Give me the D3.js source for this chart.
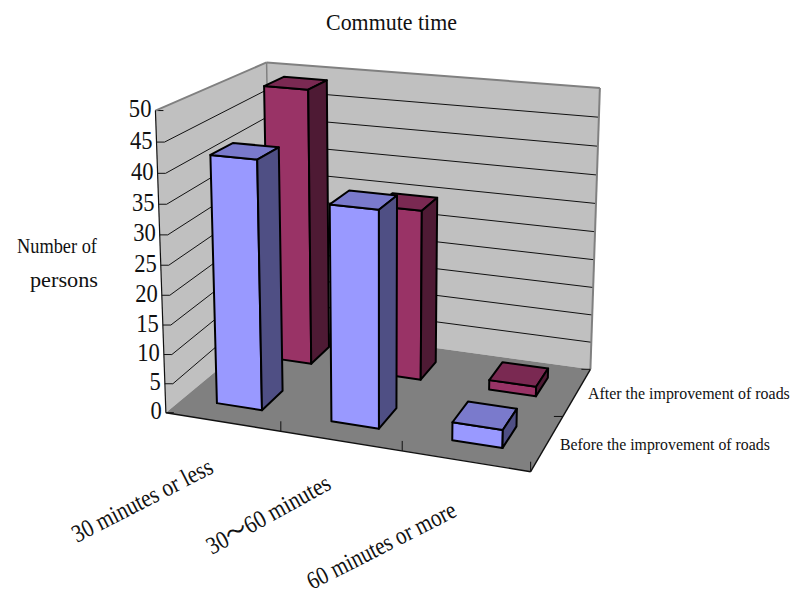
<!DOCTYPE html>
<html><head><meta charset="utf-8">
<style>html,body{margin:0;padding:0;background:#fff}svg{display:block}text{font-family:"Liberation Serif","Noto Sans CJK JP",serif;fill:#111}</style>
<script src="https://cdn.jsdelivr.net/npm/d3@7"></script></head><body>
<script>
const categories = ["30 minutes or less", "30～60 minutes", "60 minutes or more"];
const seriesNames = ["Before the improvement of roads", "After the improvement of roads"];
const beforeValues = [42, 36, 3];
const afterValues = [49, 30, 1.7];
const valueTicks = [0,5,10,15,20,25,30,35,40,45,50];
const chartTitle = "Commute time";
const axisTitle = ["Number of", "persons"];
// picture-plane anchors of the 3D box: [x, depth, height] -> [px, py]
const anchors = [
  [[0,0,0],[165,412]],[[1,0,0],[531,472]],[[1,1,0],[590,369]],[[0,1,0],[272,326]],
  [[0,0,1],[156,111]],[[0,1,1],[266,62]],[[1,1,1],[600,88]]
];
function solve(A,b){const n=b.length;const M=A.map((r,i)=>[...r,b[i]]);
  for(let c=0;c<n;c++){let p=c;for(let r=c+1;r<n;r++)if(Math.abs(M[r][c])>Math.abs(M[p][c]))p=r;
    [M[c],M[p]]=[M[p],M[c]];
    for(let r=0;r<n;r++){if(r===c)continue;const f=M[r][c]/M[c][c];for(let k=c;k<=n;k++)M[r][k]-=f*M[c][k];}}
  return M.map((r,i)=>r[n]/r[i]);}
const rows=[],rhs=[];
anchors.forEach(([[x,y,z],[u,v]])=>{
  rows.push([x,y,z,1,0,0,0,0,-u*x,-u*y,-u*z]);rhs.push(u);
  rows.push([0,0,0,0,x,y,z,1,-v*x,-v*y,-v*z]);rhs.push(v);});
const ATA=d3.range(11).map(i=>d3.range(11).map(j=>d3.sum(rows,r=>r[i]*r[j])));
const ATb=d3.range(11).map(i=>d3.sum(rows,(r,k)=>r[i]*rhs[k]));
const m=solve(ATA,ATb);
function project(x,y,z){const w=m[8]*x+m[9]*y+m[10]*z+1;return [(m[0]*x+m[1]*y+m[2]*z+m[3])/w,(m[4]*x+m[5]*y+m[6]*z+m[7])/w];}

const xScale=d3.scaleBand().domain(categories).range([0,1]).paddingInner(0.6).paddingOuter(0.3);
const depthScale=d3.scaleBand().domain(seriesNames).range([0,1]).paddingInner(0.6).paddingOuter(0.3);
const zScale=d3.scaleLinear().domain([0,50]).range([0,1]);
const line=d3.line();
const svg=d3.select("body").append("svg").attr("width",795).attr("height",596);
const poly=(pts,fill,stroke,sw)=>svg.append("path").attr("d",line(pts)+"Z").attr("fill",fill).attr("stroke",stroke||"none").attr("stroke-width",sw||0).attr("stroke-linejoin","round");
const seg=(a,b,stroke,sw)=>svg.append("line").attr("x1",a[0]).attr("y1",a[1]).attr("x2",b[0]).attr("y2",b[1]).attr("stroke",stroke).attr("stroke-width",sw);

// walls and floor
poly([project(0,0,0),project(0,1,0),project(0,1,1),project(0,0,1)],"#c0c0c0");
poly([project(0,1,0),project(1,1,0),project(1,1,1),project(0,1,1)],"#c0c0c0");
poly([project(0,0,0),project(1,0,0),project(1,1,0),project(0,1,0)],"#808080");
// gridlines
valueTicks.forEach(t=>{
  const z=zScale(t),a=project(0,0,z),b=project(0,1,z),c=project(1,1,z);
  if(t>0&&t<50){seg([a[0]+8,a[1]],b,"#111",1);seg(b,c,"#111",1);}
  seg(a,[a[0]+8,a[1]],"#111",1);
});
// wall edges
seg(project(0,0,1),project(0,1,1),"#808080",2);
seg(project(0,1,1),project(1,1,1),"#808080",2);
seg(project(0,1,1),project(0,1,0),"#808080",1.5);
seg(project(1,1,1),project(1,1,0),"#808080",2);
// axes
seg(project(0,0,0),project(0,0,1),"#111",1.2);
seg(project(0,0,0),project(1,0,0),"#111",1.4);
seg(project(1,0,0),project(1,1,0),"#111",1.4);
// category ticks
[1/3,2/3,1].forEach(f=>{const a=project(f,0,0);seg(a,[a[0],a[1]-10],"#111",1);});
// depth ticks
[0.5,1].forEach(f=>{const a=project(1,f,0);seg(a,[a[0]-9,a[1]],"#111",1);});

// bars
function bar(cat,name,val,cols){
  const x0=xScale(cat),x1=x0+xScale.bandwidth(),y0=depthScale(name),y1=y0+depthScale.bandwidth(),z=zScale(val);
  poly([project(x0,y0,0),project(x1,y0,0),project(x1,y0,z),project(x0,y0,z)],cols[0],"#000",2);
  poly([project(x0,y0,z),project(x1,y0,z),project(x1,y1,z),project(x0,y1,z)],cols[1],"#000",2);
  poly([project(x1,y0,0),project(x1,y1,0),project(x1,y1,z),project(x1,y0,z)],cols[2],"#000",2);
}
const afterCols=["#993366","#7a2952","#4e1a34"],beforeCols=["#9999ff","#7a7acc","#4f4f84"];
categories.forEach((c,i)=>bar(c,seriesNames[1],afterValues[i],afterCols));
categories.forEach((c,i)=>bar(c,seriesNames[0],beforeValues[i],beforeCols));

// text: horizontally condensed to a measured width, the way the reference's type is squeezed
function fitted(s,x,y,size,len,rotate){
  const t=svg.append("text").attr("font-size",size).text(s);
  const k=len/t.node().getComputedTextLength();
  t.attr("transform",`translate(${x},${y}) rotate(${rotate||0}) scale(${k},1)`);
  return t;
}
fitted(chartTitle,326,30,23,131);
fitted(axisTitle[0],17,253,22,80);
fitted(axisTitle[1],30,287,22,68);
valueTicks.forEach(t=>{const a=project(0,0,zScale(t));
  const w=String(t).length*11.3;
  fitted(String(t),a[0]-4-w,a[1]+6.5,25,w);});
const catLabels=[[77,543,-27.2,155],[212,555,-29,138],[312,590,-27,164]];
categories.forEach((c,i)=>{const [x,y,r,len]=catLabels[i];fitted(c,x,y,25,len,r);});
fitted(seriesNames[1],588,399,17,202);
fitted(seriesNames[0],560,450,17,210);
</script></body></html>
